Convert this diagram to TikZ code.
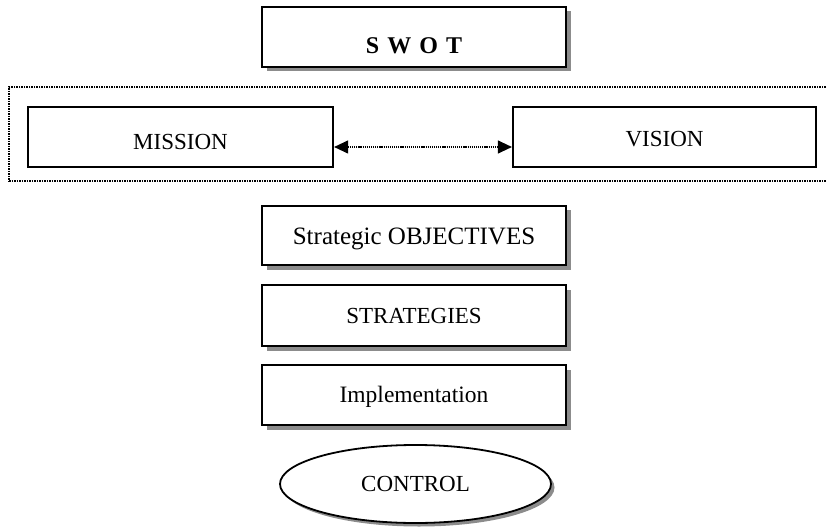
\documentclass[tikz,border=0pt]{standalone}
\usepackage{fontspec}
\setmainfont{Liberation Serif}
\usetikzlibrary{shapes.geometric,shadows,calc,arrows.meta}
\begin{document}
\begin{tikzpicture}[x=1pt,y=-1pt,
  every node/.style={font=\fontsize{23}{27}\selectfont},
  frame/.style={draw=black, line width=2.2pt, fill=white, inner sep=0pt},
  shadowed/.style={frame, drop shadow={shadow xshift=4.5pt, shadow yshift=-4.5pt, fill=black!45, opacity=1}},
  oval/.style={ellipse, draw=black, line width=1.8pt, fill=white, inner sep=0pt,
    drop shadow={shadow xshift=3.5pt, shadow yshift=-3.5pt, fill=black!45, opacity=1}},
  group/.style={draw=black, line width=1.6pt, dash pattern=on 1.5pt off 1pt},
  link/.style={line width=1.2pt, dash pattern=on 1.2pt off 0.9pt,
    {Triangle[length=14pt,width=13pt]}-{Triangle[length=14pt,width=13pt]}}
]
\useasboundingbox (0,0) rectangle (826,529);

% SWOT heading
\node[shadowed, minimum width=304pt, minimum height=60pt] (swot) at (414,37) {};
\node[font=\fontsize{24}{28}\selectfont\bfseries] (swotlabel) at (414,46) {S\kern2pt{} W\kern2pt{} O\kern2pt{} T};

% dotted frame around mission and vision
\node[group, minimum width=820pt, minimum height=94pt, inner sep=0pt] (pair) at (419,134) {};

\node[frame, minimum width=305pt, minimum height=60pt] (mission) at (180.5,137) {};
\node (missionlabel) at (180.5,142) {MISSION};
\node[frame, minimum width=303pt, minimum height=60pt] (vision) at (664.5,137) {};
\node (visionlabel) at (664.5,139) {VISION};

\draw[link] ($(mission.east)+(0,10)$) -- ($(vision.west)+(0,10)$);

% steps
\node[shadowed, minimum width=304pt, minimum height=59pt] (objectives) at (414,235.5) {};
\node[font=\fontsize{25}{29}\selectfont] (objectiveslabel) at (414,239) {Strategic OBJECTIVES};
\node[shadowed, minimum width=304pt, minimum height=61pt] (strategies) at (414,315.5) {STRATEGIES};
\node[shadowed, minimum width=304pt, minimum height=60pt] (implementation) at (414,395) {};
\node[font=\fontsize{23.5}{27}\selectfont] (implementationlabel) at (414,397) {Implementation};

\node[oval, minimum width=271pt, minimum height=78pt] (control) at (415.5,484) {CONTROL};
\end{tikzpicture}
\end{document}
